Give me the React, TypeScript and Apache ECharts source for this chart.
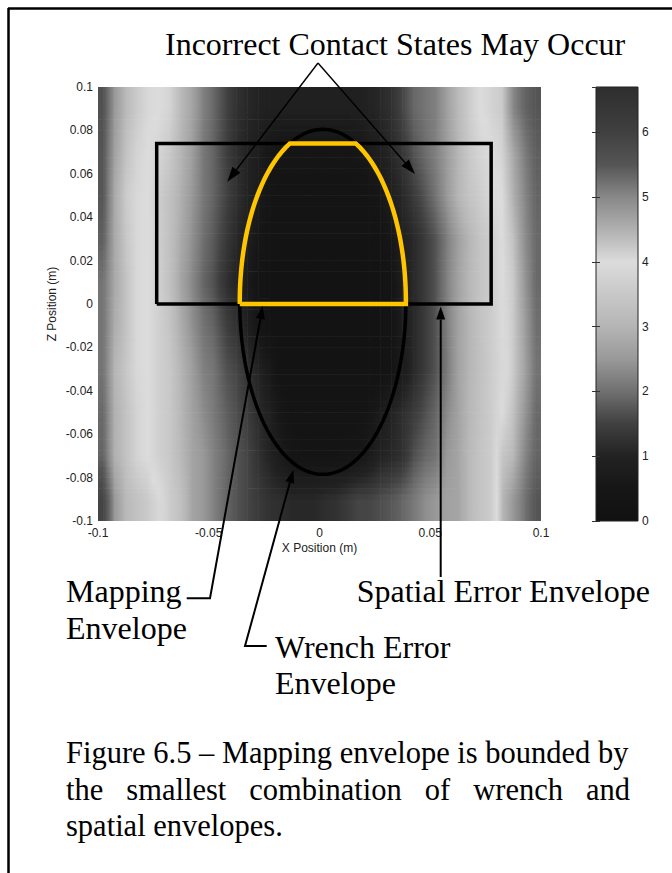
import React, { useEffect, useRef } from "react";
import * as echarts from "echarts";

// ---- data ----
const xCenters = [-0.0975,-0.0925,-0.0875,-0.0825,-0.0775,-0.0725,-0.0675,-0.0625,-0.0575,-0.0525,-0.0475,-0.0425,-0.0375,-0.0325,-0.0275,-0.0225,-0.0175,-0.0125,-0.0075,-0.0025,0.0025,0.0075,0.0125,0.0175,0.0225,0.0275,0.0325,0.0375,0.0425,0.0475,0.0525,0.0575,0.0625,0.0675,0.0725,0.0775,0.0825,0.0875,0.0925,0.0975];
const zCenters = [-0.09,-0.07,-0.05,-0.03,-0.01,0.01,0.03,0.05,0.07,0.09];

const errZm09 = [5.9,4.8,4.4,4.3,4.2,4.05,3.6,3.3,2.7,2.5,2.2,1.9,1.7,1.55,1.4,1.25,1.2,1.1,1.1,1.1,1.2,1.25,1.4,1.55,1.55,1.65,1.75,1.9,2.1,2.35,2.5,2.65,2.7,3.1,3.4,3.6,4.4,4.8,5.2,5.5];
const errZm07 = [5.35,4.5,4.3,4.1,4.0,3.7,3.5,3.1,2.7,2.5,2.2,1.95,1.7,1.55,1.25,1.0,0.7,0.4,0.35,0.35,0.35,0.35,0.4,0.5,0.7,1.0,1.1,1.25,1.65,1.9,2.05,2.5,2.7,3.1,3.4,3.6,4.25,4.4,5.0,5.35];
const errZm05 = [5.3,4.5,4.3,4.1,4.0,3.7,3.5,3.05,2.65,2.35,2.1,1.85,1.65,1.45,1.15,0.9,0.5,0.3,0.3,0.3,0.3,0.3,0.3,0.3,0.4,0.7,1.0,1.2,1.4,1.65,1.9,2.3,2.65,3.05,3.35,3.6,4.0,4.3,4.8,5.3];
const errZm03 = [5.2,4.45,4.25,4.05,4.0,3.7,3.5,3.0,2.6,2.2,2.05,1.7,1.55,1.25,1.0,0.6,0.25,0.25,0.25,0.25,0.25,0.25,0.25,0.25,0.25,0.25,0.35,0.7,1.1,1.4,1.7,2.1,2.65,3.0,3.3,3.6,3.9,4.2,4.65,5.2];
const errZm01 = [5.2,4.55,4.3,4.05,4.0,3.7,3.4,2.85,2.4,2.05,1.85,1.5,1.25,0.9,0.4,0.2,0.2,0.2,0.2,0.2,0.2,0.2,0.2,0.2,0.2,0.2,0.3,0.8,1.1,1.4,1.7,2.15,2.65,3.0,3.35,3.6,3.95,4.2,4.7,5.25];
const errZ01 = [5.2,4.6,4.3,4.05,4.0,3.7,3.3,2.7,2.3,1.9,1.65,1.25,1.0,0.7,0.3,0.2,0.2,0.2,0.2,0.2,0.2,0.2,0.2,0.2,0.2,0.2,0.3,0.9,1.1,1.4,1.7,2.2,2.65,3.05,3.4,3.6,4.0,4.2,4.8,5.3];
const errZ03 = [5.4,4.6,4.25,4.05,4.0,3.65,3.3,2.8,2.4,2.0,1.75,1.4,1.1,0.85,0.5,0.3,0.25,0.25,0.25,0.25,0.25,0.25,0.25,0.25,0.25,0.3,0.5,0.95,1.1,1.4,1.7,2.15,2.6,3.0,3.4,3.6,4.0,4.3,4.9,5.3];
const errZ05 = [5.5,4.6,4.2,4.05,4.0,3.6,3.3,2.9,2.5,2.1,1.85,1.55,1.25,1.0,0.7,0.4,0.3,0.3,0.3,0.3,0.3,0.3,0.3,0.3,0.35,0.5,0.9,1.1,1.4,1.7,2.05,2.5,3.0,3.4,3.6,3.9,4.0,4.5,5.0,5.35];
const errZ07 = [5.5,4.7,4.3,4.1,4.0,3.8,3.5,3.0,2.6,2.1,1.85,1.5,1.2,1.0,0.8,0.5,0.4,0.4,0.4,0.4,0.4,0.4,0.4,0.5,0.7,0.9,1.1,1.35,1.7,1.95,2.2,2.55,3.0,3.5,3.8,4.0,4.1,4.6,5.1,5.4];
const errZ09 = [5.6,4.8,4.4,4.2,4.05,4.0,3.8,3.1,2.7,2.2,1.9,1.55,1.25,1.1,1.0,0.9,0.9,0.9,0.9,0.9,0.9,0.9,0.9,0.9,1.0,1.1,1.25,1.55,1.9,2.05,2.2,2.6,3.1,3.6,4.0,4.1,4.2,5.0,5.35,5.5];
const errorRows = [errZm09, errZm07, errZm05, errZm03, errZm01, errZ01, errZ03, errZ05, errZ07, errZ09];

// colormap (value -> gray)
const cmapValues = [0, 0.5, 1, 1.5, 2, 2.5, 3, 3.5, 4, 4.5, 5, 5.5, 6, 6.5];
const cmapGrays = [17, 22, 34, 64, 112, 153, 181, 200, 220, 176, 136, 85, 64, 51];
const colorbarMax = 6.7;
const colorbarTopGray = 46;

// envelopes (data units, metres)
const spatialX = [-0.0735, 0.0775];
const spatialZ = [0, 0.074];
const wrenchCenter = [0.0015, 0.001];
const wrenchSemiAxes = [0.0375, 0.0795];

// ---- layout ----
const PLOT = { left: 98, top: 87, width: 443, height: 434 };
const CBAR = { left: 596, top: 87, width: 42, height: 434 };
const SERIF = "Liberation Serif";
const SANS = "Liberation Sans";
const FS = 32;
const FS_CAP = 30.5;

const hex = (g: number) => {
  const h = Math.max(0, Math.min(255, Math.round(g))).toString(16).padStart(2, "0");
  return "#" + h + h + h;
};
const cmapColors = cmapGrays.map(hex);
function colorOf(v: number) {
  if (v <= cmapValues[0]) return hex(cmapGrays[0]);
  for (let k = 1; k < cmapValues.length; k++) {
    if (v <= cmapValues[k]) {
      const t = (v - cmapValues[k - 1]) / (cmapValues[k] - cmapValues[k - 1]);
      return hex(cmapGrays[k - 1] + (cmapGrays[k] - cmapGrays[k - 1]) * t);
    }
  }
  return hex(cmapGrays[cmapGrays.length - 1]);
}

function head(tip: number[], from: number[], len: number, wid: number) {
  const dx = tip[0] - from[0], dy = tip[1] - from[1];
  const L = Math.hypot(dx, dy);
  const ux = dx / L, uy = dy / L;
  const bx = tip[0] - ux * len, by = tip[1] - uy * len;
  const px = -uy * wid / 2, py = ux * wid / 2;
  return { base: [bx, by], pts: [[tip[0], tip[1]], [bx + px, by + py], [bx - px, by - py]] };
}

function arrow(points: number[][], lw: number, len: number, wid: number) {
  const tip = points[points.length - 1];
  const prev = points[points.length - 2];
  const h = head(tip, prev, len, wid);
  const linePts = points.slice(0, -1).concat([h.base]);
  return [
    { type: "polyline", shape: { points: linePts }, style: { stroke: "#000", lineWidth: lw, fill: null }, z: 50 },
    { type: "polygon", shape: { points: h.pts }, style: { fill: "#000" }, z: 50 },
  ];
}

function txt(text: string, x: number, baseline: number, align = "left", fs = FS) {
  return {
    type: "text",
    x, y: baseline - 0.34 * fs, z: 50,
    style: { text, fontSize: fs, fontFamily: SERIF, fill: "#000", align, verticalAlign: "middle" },
  };
}

export default function App() {
  const ref = useRef<HTMLDivElement>(null);
  useEffect(() => {
    if (!ref.current) return;
    const chart = echarts.init(ref.current, null, { renderer: "svg" });

    // extended node grid: plot edges + cell centres
    const exX = [-0.1, ...xCenters, 0.1];
    const exZ = [-0.1, ...zCenters, 0.1];
    const nodeV = (i: number, j: number) => {
      const ci = Math.min(Math.max(i - 1, 0), xCenters.length - 1);
      const rj = Math.min(Math.max(j - 1, 0), zCenters.length - 1);
      return errorRows[rj][ci];
    };
    const cellData: number[][] = [];
    for (let j = 0; j < exZ.length - 1; j++)
      for (let i = 0; i < exX.length - 1; i++)
        cellData.push([exX[i], exZ[j], exX[i + 1], exZ[j + 1], i, j]);

    const renderCell = (params: any, api: any) => {
      const i = api.value(4), j = api.value(5);
      const p0 = api.coord([api.value(0), api.value(1)]);
      const p1 = api.coord([api.value(2), api.value(3)]);
      const vBL = nodeV(i, j), vBR = nodeV(i + 1, j), vTL = nodeV(i, j + 1), vTR = nodeV(i + 1, j + 1);
      const flat = vBL === vTL && vBR === vTR;
      const S = flat ? 1 : 8;
      const h = p0[1] - p1[1];
      const w = p1[0] - p0[0];
      const children: any[] = [];
      for (let s = 0; s < S; s++) {
        const t = (s + 0.5) / S;
        const vL = vBL + (vTL - vBL) * t;
        const vR = vBR + (vTR - vBR) * t;
        const yTop = p0[1] - (h * (s + 1)) / S;
        children.push({
          type: "rect",
          shape: { x: p0[0] - 0.3, y: yTop - 0.3, width: w + 0.6, height: h / S + 0.6 },
          style: {
            fill: new echarts.graphic.LinearGradient(0, 0, 1, 0, [
              { offset: 0, color: colorOf(vL) },
              { offset: 0.5, color: colorOf((vL + vR) / 2) },
              { offset: 1, color: colorOf(vR) },
            ]),
          },
        });
      }
      return { type: "group", children };
    };

    const [cx, cz] = wrenchCenter;
    const [ax, bz] = wrenchSemiAxes;
    const ellipsePts: number[][] = [];
    for (let d = 0; d <= 360; d += 2) {
      const t = (d * Math.PI) / 180;
      ellipsePts.push([cx + ax * Math.cos(t), cz + bz * Math.sin(t)]);
    }
    const halfW = (z: number) => {
      const t = (z - cz) / bz;
      return ax * Math.sqrt(Math.max(0, 1 - t * t));
    };
    const mapPts: number[][] = [];
    const N = 40;
    for (let k = 0; k <= N; k++) {
      const z = spatialZ[0] + ((spatialZ[1] - spatialZ[0]) * k) / N;
      mapPts.push([Math.max(spatialX[0], cx - halfW(z)), z]);
    }
    for (let k = N; k >= 0; k--) {
      const z = spatialZ[0] + ((spatialZ[1] - spatialZ[0]) * k) / N;
      mapPts.push([Math.min(spatialX[1], cx + halfW(z)), z]);
    }
    mapPts.push(mapPts[0]);
    const rectPts = [
      [spatialX[0], spatialZ[0]], [spatialX[1], spatialZ[0]], [spatialX[1], spatialZ[1]],
      [spatialX[0], spatialZ[1]], [spatialX[0], spatialZ[0]],
    ];

    const stops = cmapValues.map((v, k) => ({ offset: v / colorbarMax, color: cmapColors[k] }));
    stops.push({ offset: 1, color: hex(colorbarTopGray) });

    const tickLabel = { fontFamily: SANS, fontSize: 12, color: "#222" };
    const fmt = (v: number) => String(Math.round(v * 1000) / 1000);

    const graphic: any[] = [
      { type: "line", shape: { x1: 8, y1: 8.5, x2: 672, y2: 8.5 }, style: { stroke: "#000", lineWidth: 2.5 }, z: 50 },
      { type: "line", shape: { x1: 8.5, y1: 8, x2: 8.5, y2: 873 }, style: { stroke: "#000", lineWidth: 2.5 }, z: 50 },
      {
        type: "rect", z: -10,
        shape: { x: CBAR.left, y: CBAR.top, width: CBAR.width, height: CBAR.height },
        style: { fill: new echarts.graphic.LinearGradient(0, 1, 0, 0, stops), stroke: "#222", lineWidth: 1 },
      },
      txt("Incorrect Contact States May Occur", 165, 55),
      ...arrow([[318, 63], [227.3, 181.7]], 1.4, 15, 10),
      ...arrow([[318, 63], [415, 174]], 1.4, 15, 10),
      ...arrow([[186.7, 598.3], [210, 598.3], [262.7, 306]], 2, 13, 9),
      ...arrow([[266.7, 646], [245, 646], [293.3, 470]], 2, 13, 9),
      ...arrow([[440.7, 577], [440.7, 306.5]], 2, 13, 9),
      txt("Mapping", 66, 601.7),
      txt("Envelope", 66, 639),
      txt("Spatial Error Envelope", 356.7, 601.7),
      txt("Wrench Error", 275, 658.3),
      txt("Envelope", 275, 693.5),
      txt("Figure 6.5 \u2013 Mapping envelope is bounded by", 66, 763, "left", FS_CAP),
      txt("the", 66, 800, "left", FS_CAP),
      txt("smallest", 126.3, 800, "left", FS_CAP),
      txt("combination", 249.3, 800, "left", FS_CAP),
      txt("of", 424.8, 800, "left", FS_CAP),
      txt("wrench", 473.2, 800, "left", FS_CAP),
      txt("and", 630, 800, "right", FS_CAP),
      txt("spatial envelopes.", 66, 836, "left", FS_CAP),
    ];

    chart.setOption({
      animation: false,
      backgroundColor: "#ffffff",
      grid: [
        { left: PLOT.left, top: PLOT.top, width: PLOT.width, height: PLOT.height },
        { left: CBAR.left, top: CBAR.top, width: CBAR.width, height: CBAR.height },
      ],
      xAxis: [
        {
          type: "value", gridIndex: 0, min: -0.1, max: 0.1, interval: 0.05, position: "bottom",
          name: "X Position (m)", nameLocation: "middle", nameGap: 21, nameTextStyle: tickLabel,
          nameMoveOverlap: false,
          axisLine: { show: false }, axisTick: { show: false }, splitLine: { show: false },
          axisLabel: { ...tickLabel, margin: 6, formatter: fmt },
        },
        { type: "value", gridIndex: 1, min: 0, max: 1, show: false },
      ],
      yAxis: [
        {
          type: "value", gridIndex: 0, min: -0.1, max: 0.1, interval: 0.02, position: "left",
          name: "Z Position (m)", nameLocation: "middle", nameRotate: 90, nameGap: 40, nameTextStyle: tickLabel,
          nameMoveOverlap: false,
          axisLine: { show: false }, axisTick: { show: false }, splitLine: { show: false },
          axisLabel: { ...tickLabel, margin: 5, formatter: fmt },
        },
        {
          type: "value", gridIndex: 1, min: 0, max: colorbarMax, interval: 1, position: "right",
          axisLine: { show: false }, splitLine: { show: false },
          axisTick: { show: true, inside: true, length: 4, lineStyle: { color: "#333" } },
          axisLabel: { ...tickLabel, margin: 4, formatter: (v: number) => (Number.isInteger(v) ? String(v) : "") },
        },
        {
          type: "value", gridIndex: 1, min: 0, max: colorbarMax, interval: 1, position: "left",
          axisLine: { show: false }, splitLine: { show: false }, axisLabel: { show: false },
          axisTick: { show: true, inside: true, length: 4, lineStyle: { color: "#333" } },
        },
      ],
      series: [
        {
          type: "custom", name: "error map", xAxisIndex: 0, yAxisIndex: 0, data: cellData,
          renderItem: renderCell, clip: true, silent: true, z: 1,
        },
        {
          type: "line", xAxisIndex: 0, yAxisIndex: 0, data: rectPts, symbol: "none", silent: true,
          lineStyle: { color: "#000", width: 3.5, join: "miter" }, z: 3,
        },
        {
          type: "line", xAxisIndex: 0, yAxisIndex: 0, data: ellipsePts, symbol: "none", silent: true,
          lineStyle: { color: "#000", width: 3.5 }, z: 4,
        },
        {
          type: "line", xAxisIndex: 0, yAxisIndex: 0, data: mapPts, symbol: "none", silent: true,
          lineStyle: { color: "#ffc600", width: 4.5, join: "miter" }, z: 5,
        },
      ],
      graphic,
    });
    return () => chart.dispose();
  }, []);
  return (
    <div
      ref={ref}
      style={{ position: "absolute", left: 0, top: 0, width: 672, height: 873, background: "#fff" }}
    />
  );
}
